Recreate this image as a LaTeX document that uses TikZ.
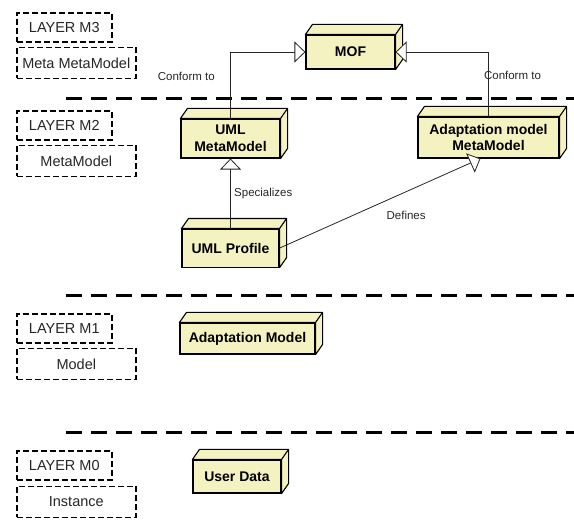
\documentclass[tikz,border=0pt]{standalone}
\usepackage{fontspec}
\setmainfont{Liberation Sans}
\usetikzlibrary{positioning,arrows.meta}
\definecolor{boxfill}{RGB}{245,242,193}
\tikzstyle{layer} = [rectangle, draw=black, fill=white, line width=1.6pt, dash pattern=on 6pt off 3pt,
                     minimum width=95pt, minimum height=29pt, inner sep=0pt, text=black!85,
                     font=\fontsize{14.5}{17}\selectfont, anchor=north west]
\tikzstyle{layerdesc} = [layer, minimum width=119pt, minimum height=31pt]
\tikzstyle{block} = [
    rectangle, draw=black, fill=boxfill, line width=1.1pt, align=center, inner sep=0pt,
    font=\fontsize{14}{16.5}\selectfont\bfseries,
    append after command={\pgfextra{
        \begin{pgfinterruptpath}
        \draw[fill=boxfill, line width=1.1pt, line join=round]
            (\tikzlastnode.north west) -- ++(7pt,10pt)
            -- ([shift={(7pt,10pt)}]\tikzlastnode.north east)
            -- ([shift={(7pt,10pt)}]\tikzlastnode.south east)
            -- (\tikzlastnode.south east) -- (\tikzlastnode.north east) -- cycle
            (\tikzlastnode.north east) -- ++(7pt,10pt);
        \end{pgfinterruptpath}}}
]
\tikzstyle{sep} = [line width=3pt, dash pattern=on 16pt off 9pt]
\tikzstyle{conn} = [draw=black!85, line width=0.8pt, -{Triangle[fill=white, length=11pt, width=21pt]}]
\tikzstyle{lbl} = [font=\fontsize{11.5}{13}\selectfont, text=black!85]

\begin{document}
\begin{tikzpicture}[x=1pt, y=-1pt]
    \useasboundingbox (0,0) rectangle (574,521);

    % Layer separators
    \foreach \y in {99,296,433}
        \draw [sep] (66,\y) -- (574,\y);

    % Layers
    \node (m3) [layer] at (16,12) {LAYER M3};
    \node (m3desc) [layerdesc, below right=4pt and 0pt of m3.south west] {Meta MetaModel};
    \node (m2) [layer] at (16,110) {LAYER M2};
    \node (m2desc) [layerdesc, below right=4pt and 0pt of m2.south west] {MetaModel};
    \node (m1) [layer] at (16,313) {LAYER M1};
    \node (m1desc) [layerdesc, below right=4pt and 0pt of m1.south west] {Model};
    \node (m0) [layer] at (16,450) {LAYER M0};
    \node (m0desc) [layerdesc, below right=5pt and 0pt of m0.south west] {Instance};

    % Nodes
    \node (mof) [block, minimum width=89pt, minimum height=34pt] at (350.5,52) {MOF};
    \node (umlmeta) [block, minimum width=99pt, minimum height=39pt] at (230.5,138.5) {UML\\MetaModel};
    \node (adameta) [block, minimum width=141pt, minimum height=41pt] at (488.5,137.5) {Adaptation model\\MetaModel};
    \node (umlprof) [block, minimum width=97pt, minimum height=38pt, below=70pt of umlmeta] {UML Profile};
    \node (adamodel) [block, minimum width=135pt, minimum height=31pt] at (247.5,338.5) {Adaptation Model};
    \node (userdata) [block, minimum width=88pt, minimum height=33pt] at (237,476.5) {User Data};

    % Arrows
    \draw [conn] (umlmeta.north) |- node[lbl, pos=0.32, left=12pt] {Conform to} (mof.west);
    \draw [conn] (adameta.north) |- node[lbl, pos=0.315, xshift=24pt] {Conform to} (mof.east);
    \draw [conn] (umlprof.north) -- node[lbl, right] {Specializes} (umlprof.north |- umlmeta.south);
    \draw [conn] (umlprof.east) -- node[lbl, pos=0.63, yshift=-24pt] {Defines} ([xshift=-8pt]adameta.south);
\end{tikzpicture}
\end{document}
